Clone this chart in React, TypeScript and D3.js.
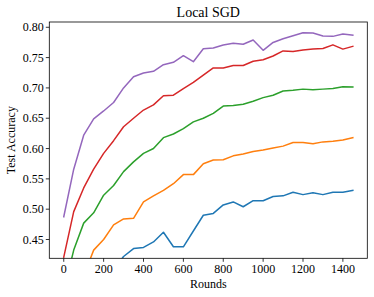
import { useEffect, useRef } from "react";
import * as d3 from "d3";

const rounds = d3.range(0, 1451, 50);

const seriesColors = ["#1f77b4", "#ff7f0e", "#2ca02c", "#d62728", "#9467bd"];

const blueAcc = [
  0.3, 0.31, 0.32, 0.34, 0.37, 0.4, 0.422, 0.435, 0.437, 0.446, 0.462, 0.438,
  0.438, 0.464, 0.49, 0.493, 0.507, 0.512, 0.504, 0.514, 0.514, 0.521, 0.522,
  0.528, 0.524, 0.527, 0.524, 0.528, 0.528, 0.531,
];
const orangeAcc = [
  0.3, 0.35, 0.39, 0.4325, 0.45, 0.474, 0.484, 0.485, 0.512, 0.522, 0.531,
  0.542, 0.557, 0.557, 0.575, 0.581, 0.5815, 0.588, 0.591, 0.595, 0.5975,
  0.601, 0.604, 0.61, 0.61, 0.608, 0.611, 0.612, 0.614, 0.618,
];
const greenAcc = [
  0.365, 0.4325, 0.477, 0.494, 0.523, 0.539, 0.562, 0.578, 0.592, 0.6, 0.618,
  0.624, 0.633, 0.644, 0.65, 0.658, 0.67, 0.671, 0.673, 0.678, 0.684, 0.688,
  0.695, 0.696, 0.698, 0.697, 0.698, 0.699, 0.702, 0.7015,
];
const redAcc = [
  0.421, 0.496, 0.535, 0.566, 0.592, 0.613, 0.636, 0.65, 0.6635, 0.672, 0.687,
  0.688, 0.699, 0.709, 0.721, 0.733, 0.733, 0.737, 0.737, 0.744, 0.7465,
  0.7526, 0.761, 0.76, 0.7625, 0.764, 0.765, 0.771, 0.764, 0.7686,
];
const purpleAcc = [
  0.4875, 0.566, 0.622, 0.649, 0.662, 0.676, 0.7, 0.7185, 0.7246, 0.7274,
  0.7383, 0.7422, 0.7531, 0.7432, 0.7647, 0.7658, 0.7708, 0.7736, 0.772,
  0.779, 0.762, 0.775, 0.781, 0.786, 0.791, 0.7906, 0.7856, 0.785, 0.789,
  0.787,
];

const xTicks = [0, 200, 400, 600, 800, 1000, 1200, 1400];
const yTicks = [0.45, 0.5, 0.55, 0.6, 0.65, 0.7, 0.75, 0.8];

export default function App() {
  const svgRef = useRef<SVGSVGElement>(null);
  const width = 374;
  const height = 297;

  useEffect(() => {
    if (!svgRef.current) return;
    const svg = d3.select(svgRef.current);
    svg.selectAll("*").remove();

    const left = 49.3;
    const right = 367.3;
    const top = 22;
    const bottom = 258.3;
    const font = "'Liberation Serif', 'Times New Roman', serif";

    const x = d3.scaleLinear().domain([-72.5, 1522.5]).range([left, right]);
    const y = d3.scaleLinear().domain([0.419, 0.8087]).range([bottom, top]);

    svg.append("rect").attr("width", width).attr("height", height).attr("fill", "#fff");

    svg
      .append("clipPath")
      .attr("id", "plot-clip")
      .append("rect")
      .attr("x", left)
      .attr("y", top)
      .attr("width", right - left)
      .attr("height", bottom - top);

    // Lines
    const allSeries = [blueAcc, orangeAcc, greenAcc, redAcc, purpleAcc];
    const line = d3
      .line<number>()
      .x((_, i) => x(rounds[i]))
      .y((d) => y(d));

    const lines = svg.append("g").attr("clip-path", "url(#plot-clip)");
    allSeries.forEach((vals, i) => {
      lines
        .append("path")
        .datum(vals)
        .attr("d", line)
        .attr("fill", "none")
        .attr("stroke", seriesColors[i])
        .attr("stroke-width", 1.5)
        .attr("stroke-linejoin", "round")
        .attr("stroke-linecap", "square");
    });

    // Frame
    svg
      .append("rect")
      .attr("x", left)
      .attr("y", top)
      .attr("width", right - left)
      .attr("height", bottom - top)
      .attr("fill", "none")
      .attr("stroke", "#000")
      .attr("stroke-width", 0.8);

    // X ticks
    xTicks.forEach((t) => {
      svg
        .append("line")
        .attr("x1", x(t))
        .attr("x2", x(t))
        .attr("y1", bottom)
        .attr("y2", bottom + 3.5)
        .attr("stroke", "#000")
        .attr("stroke-width", 0.8);
      svg
        .append("text")
        .attr("x", x(t))
        .attr("y", 272.5)
        .attr("text-anchor", "middle")
        .attr("font-family", font)
        .attr("font-size", "12px")
        .attr("fill", "#000")
        .text(String(t));
    });

    // Y ticks
    yTicks.forEach((t) => {
      svg
        .append("line")
        .attr("x1", left - 3.5)
        .attr("x2", left)
        .attr("y1", y(t))
        .attr("y2", y(t))
        .attr("stroke", "#000")
        .attr("stroke-width", 0.8);
      svg
        .append("text")
        .attr("x", left - 5.5)
        .attr("y", y(t))
        .attr("dy", "0.34em")
        .attr("text-anchor", "end")
        .attr("font-family", font)
        .attr("font-size", "12px")
        .attr("fill", "#000")
        .text(t.toFixed(2));
    });

    // Title and axis labels
    svg
      .append("text")
      .attr("x", (left + right) / 2)
      .attr("y", 16.5)
      .attr("text-anchor", "middle")
      .attr("font-family", font)
      .attr("font-size", "14px")
      .attr("fill", "#000")
      .text("Local SGD");

    svg
      .append("text")
      .attr("x", (left + right) / 2)
      .attr("y", 288)
      .attr("text-anchor", "middle")
      .attr("font-family", font)
      .attr("font-size", "12px")
      .attr("fill", "#000")
      .text("Rounds");

    svg
      .append("text")
      .attr("transform", `translate(15, ${(top + bottom) / 2}) rotate(-90)`)
      .attr("text-anchor", "middle")
      .attr("font-family", font)
      .attr("font-size", "12px")
      .attr("fill", "#000")
      .text("Test Accuracy");
  }, []);

  return (
    <svg
      ref={svgRef}
      width={width}
      height={height}
      style={{ position: "absolute", left: 0, top: 0 }}
    ></svg>
  );
}
